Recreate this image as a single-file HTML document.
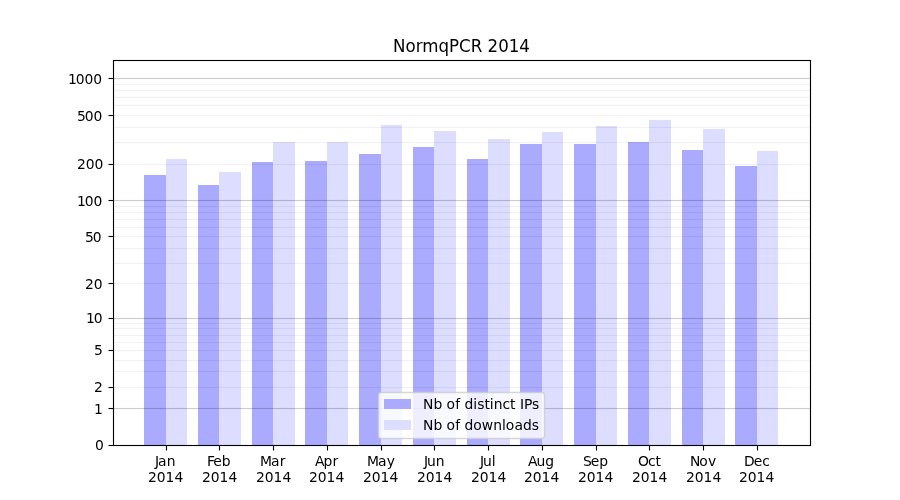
<!DOCTYPE html>
<html lang="en"><head><meta charset="utf-8"><title>NormqPCR 2014</title>
<style>
html,body{margin:0;padding:0;background:#fff;}
body{width:900px;height:500px;overflow:hidden;}
svg{display:block;font-family:"DejaVu Sans","Liberation Sans",sans-serif;fill:#000;}
.t{font-size:13.889px;}
.ttl{font-size:16.667px;}
</style></head><body>
<svg width="900" height="500" viewBox="0 0 900 500">
<rect x="0" y="0" width="900" height="500" fill="#fff"/>
<g shape-rendering="crispEdges">
<rect x="144" y="175" width="22" height="270" fill="#aaaaff"/>
<rect x="166" y="159" width="21" height="286" fill="#ddddff"/>
<rect x="198" y="185" width="21" height="260" fill="#aaaaff"/>
<rect x="219" y="172" width="22" height="273" fill="#ddddff"/>
<rect x="252" y="162" width="21" height="283" fill="#aaaaff"/>
<rect x="273" y="142" width="22" height="303" fill="#ddddff"/>
<rect x="305" y="161" width="22" height="284" fill="#aaaaff"/>
<rect x="327" y="142" width="21" height="303" fill="#ddddff"/>
<rect x="359" y="154" width="22" height="291" fill="#aaaaff"/>
<rect x="381" y="125" width="21" height="320" fill="#ddddff"/>
<rect x="413" y="147" width="21" height="298" fill="#aaaaff"/>
<rect x="434" y="131" width="22" height="314" fill="#ddddff"/>
<rect x="467" y="159" width="21" height="286" fill="#aaaaff"/>
<rect x="488" y="139" width="22" height="306" fill="#ddddff"/>
<rect x="520" y="144" width="22" height="301" fill="#aaaaff"/>
<rect x="542" y="132" width="21" height="313" fill="#ddddff"/>
<rect x="574" y="144" width="22" height="301" fill="#aaaaff"/>
<rect x="596" y="126" width="21" height="319" fill="#ddddff"/>
<rect x="628" y="142" width="21" height="303" fill="#aaaaff"/>
<rect x="649" y="120" width="22" height="325" fill="#ddddff"/>
<rect x="682" y="150" width="21" height="295" fill="#aaaaff"/>
<rect x="703" y="129" width="22" height="316" fill="#ddddff"/>
<rect x="735" y="166" width="22" height="279" fill="#aaaaff"/>
<rect x="757" y="151" width="21" height="294" fill="#ddddff"/>
</g>
<g fill="#000" shape-rendering="crispEdges">
<rect x="114" y="408" width="696" height="1" fill-opacity="0.2"/><rect x="114" y="407" width="696" height="1" fill-opacity="0.0120"/><rect x="114" y="409" width="696" height="1" fill-opacity="0.0120"/>
<rect x="114" y="387" width="696" height="1" fill-opacity="0.055"/><rect x="114" y="386" width="696" height="1" fill-opacity="0.0033"/><rect x="114" y="388" width="696" height="1" fill-opacity="0.0033"/>
<rect x="114" y="371" width="696" height="1" fill-opacity="0.055"/><rect x="114" y="370" width="696" height="1" fill-opacity="0.0033"/><rect x="114" y="372" width="696" height="1" fill-opacity="0.0033"/>
<rect x="114" y="360" width="696" height="1" fill-opacity="0.055"/><rect x="114" y="359" width="696" height="1" fill-opacity="0.0033"/><rect x="114" y="361" width="696" height="1" fill-opacity="0.0033"/>
<rect x="114" y="350" width="696" height="1" fill-opacity="0.055"/><rect x="114" y="349" width="696" height="1" fill-opacity="0.0033"/><rect x="114" y="351" width="696" height="1" fill-opacity="0.0033"/>
<rect x="114" y="342" width="696" height="1" fill-opacity="0.055"/><rect x="114" y="341" width="696" height="1" fill-opacity="0.0033"/><rect x="114" y="343" width="696" height="1" fill-opacity="0.0033"/>
<rect x="114" y="335" width="696" height="1" fill-opacity="0.055"/><rect x="114" y="334" width="696" height="1" fill-opacity="0.0033"/><rect x="114" y="336" width="696" height="1" fill-opacity="0.0033"/>
<rect x="114" y="328" width="696" height="1" fill-opacity="0.055"/><rect x="114" y="327" width="696" height="1" fill-opacity="0.0033"/><rect x="114" y="329" width="696" height="1" fill-opacity="0.0033"/>
<rect x="114" y="323" width="696" height="1" fill-opacity="0.055"/><rect x="114" y="322" width="696" height="1" fill-opacity="0.0033"/><rect x="114" y="324" width="696" height="1" fill-opacity="0.0033"/>
<rect x="114" y="318" width="696" height="1" fill-opacity="0.2"/><rect x="114" y="317" width="696" height="1" fill-opacity="0.0120"/><rect x="114" y="319" width="696" height="1" fill-opacity="0.0120"/>
<rect x="114" y="283" width="696" height="1" fill-opacity="0.055"/><rect x="114" y="282" width="696" height="1" fill-opacity="0.0033"/><rect x="114" y="284" width="696" height="1" fill-opacity="0.0033"/>
<rect x="114" y="263" width="696" height="1" fill-opacity="0.055"/><rect x="114" y="262" width="696" height="1" fill-opacity="0.0033"/><rect x="114" y="264" width="696" height="1" fill-opacity="0.0033"/>
<rect x="114" y="248" width="696" height="1" fill-opacity="0.055"/><rect x="114" y="247" width="696" height="1" fill-opacity="0.0033"/><rect x="114" y="249" width="696" height="1" fill-opacity="0.0033"/>
<rect x="114" y="236" width="696" height="1" fill-opacity="0.055"/><rect x="114" y="235" width="696" height="1" fill-opacity="0.0033"/><rect x="114" y="237" width="696" height="1" fill-opacity="0.0033"/>
<rect x="114" y="227" width="696" height="1" fill-opacity="0.055"/><rect x="114" y="226" width="696" height="1" fill-opacity="0.0033"/><rect x="114" y="228" width="696" height="1" fill-opacity="0.0033"/>
<rect x="114" y="219" width="696" height="1" fill-opacity="0.055"/><rect x="114" y="218" width="696" height="1" fill-opacity="0.0033"/><rect x="114" y="220" width="696" height="1" fill-opacity="0.0033"/>
<rect x="114" y="212" width="696" height="1" fill-opacity="0.055"/><rect x="114" y="211" width="696" height="1" fill-opacity="0.0033"/><rect x="114" y="213" width="696" height="1" fill-opacity="0.0033"/>
<rect x="114" y="206" width="696" height="1" fill-opacity="0.055"/><rect x="114" y="205" width="696" height="1" fill-opacity="0.0033"/><rect x="114" y="207" width="696" height="1" fill-opacity="0.0033"/>
<rect x="114" y="200" width="696" height="1" fill-opacity="0.2"/><rect x="114" y="199" width="696" height="1" fill-opacity="0.0120"/><rect x="114" y="201" width="696" height="1" fill-opacity="0.0120"/>
<rect x="114" y="164" width="696" height="1" fill-opacity="0.055"/><rect x="114" y="163" width="696" height="1" fill-opacity="0.0033"/><rect x="114" y="165" width="696" height="1" fill-opacity="0.0033"/>
<rect x="114" y="142" width="696" height="1" fill-opacity="0.055"/><rect x="114" y="141" width="696" height="1" fill-opacity="0.0033"/><rect x="114" y="143" width="696" height="1" fill-opacity="0.0033"/>
<rect x="114" y="127" width="696" height="1" fill-opacity="0.055"/><rect x="114" y="126" width="696" height="1" fill-opacity="0.0033"/><rect x="114" y="128" width="696" height="1" fill-opacity="0.0033"/>
<rect x="114" y="115" width="696" height="1" fill-opacity="0.055"/><rect x="114" y="114" width="696" height="1" fill-opacity="0.0033"/><rect x="114" y="116" width="696" height="1" fill-opacity="0.0033"/>
<rect x="114" y="105" width="696" height="1" fill-opacity="0.055"/><rect x="114" y="104" width="696" height="1" fill-opacity="0.0033"/><rect x="114" y="106" width="696" height="1" fill-opacity="0.0033"/>
<rect x="114" y="97" width="696" height="1" fill-opacity="0.055"/><rect x="114" y="96" width="696" height="1" fill-opacity="0.0033"/><rect x="114" y="98" width="696" height="1" fill-opacity="0.0033"/>
<rect x="114" y="90" width="696" height="1" fill-opacity="0.055"/><rect x="114" y="89" width="696" height="1" fill-opacity="0.0033"/><rect x="114" y="91" width="696" height="1" fill-opacity="0.0033"/>
<rect x="114" y="84" width="696" height="1" fill-opacity="0.055"/><rect x="114" y="83" width="696" height="1" fill-opacity="0.0033"/><rect x="114" y="85" width="696" height="1" fill-opacity="0.0033"/>
<rect x="114" y="78" width="696" height="1" fill-opacity="0.2"/><rect x="114" y="77" width="696" height="1" fill-opacity="0.0120"/><rect x="114" y="79" width="696" height="1" fill-opacity="0.0120"/>
</g>
<rect x="113.5" y="60.5" width="697" height="385" fill="none" stroke="#000" stroke-width="1.111"/>
<g stroke="#000" stroke-width="1.111">
<line x1="108.5" y1="445.5" x2="113" y2="445.5"/>
<line x1="108.5" y1="408.5" x2="113" y2="408.5"/>
<line x1="108.5" y1="387.5" x2="113" y2="387.5"/>
<line x1="108.5" y1="350.5" x2="113" y2="350.5"/>
<line x1="108.5" y1="318.5" x2="113" y2="318.5"/>
<line x1="108.5" y1="283.5" x2="113" y2="283.5"/>
<line x1="108.5" y1="236.5" x2="113" y2="236.5"/>
<line x1="108.5" y1="200.5" x2="113" y2="200.5"/>
<line x1="108.5" y1="164.5" x2="113" y2="164.5"/>
<line x1="108.5" y1="115.5" x2="113" y2="115.5"/>
<line x1="108.5" y1="78.5" x2="113" y2="78.5"/>
<line x1="166.5" y1="445" x2="166.5" y2="450.5"/>
<line x1="219.5" y1="445" x2="219.5" y2="450.5"/>
<line x1="273.5" y1="445" x2="273.5" y2="450.5"/>
<line x1="327.5" y1="445" x2="327.5" y2="450.5"/>
<line x1="381.5" y1="445" x2="381.5" y2="450.5"/>
<line x1="434.5" y1="445" x2="434.5" y2="450.5"/>
<line x1="488.5" y1="445" x2="488.5" y2="450.5"/>
<line x1="542.5" y1="445" x2="542.5" y2="450.5"/>
<line x1="596.5" y1="445" x2="596.5" y2="450.5"/>
<line x1="649.5" y1="445" x2="649.5" y2="450.5"/>
<line x1="703.5" y1="445" x2="703.5" y2="450.5"/>
<line x1="757.5" y1="445" x2="757.5" y2="450.5"/>
</g>
<rect x="378.5" y="392.5" width="166" height="46" rx="2.8" ry="2.8" fill="#fff" fill-opacity="0.8" stroke="#ccc" stroke-opacity="0.8" stroke-width="1.389"/>
<rect x="384" y="399" width="27" height="10" fill="#aaaaff" shape-rendering="crispEdges"/>
<rect x="384" y="420" width="27" height="10" fill="#ddddff" shape-rendering="crispEdges"/>
<text id="y0" class="t" x="95" y="450.30">0</text>
<text id="y1" class="t" x="94" y="413.51">1</text>
<text id="y2" class="t" x="94" y="392.00">2</text>
<text id="y5" class="t" x="94" y="355.21">5</text>
<text id="y10" class="t" x="86 93.75" y="323.04">10</text>
<text id="y20" class="t" x="85 93.75" y="288.72">20</text>
<text id="y50" class="t" x="85 92.75" y="241.63">50</text>
<text id="y100" class="t" x="77 84.75 93.5" y="205.62">100</text>
<text id="y200" class="t" x="77 85.75 94.5" y="168.85">200</text>
<text id="y500" class="t" x="77 84.75 93.5" y="120.63">500</text>
<text id="y1000" class="t" x="68 75.75 84.5 93.25" y="83.65">1000</text>
<text id="m0" class="t" x="155 158 166.75" y="465.50">Jan</text>
<text id="n0" class="t" x="148 156.75 165.5 174.5" y="481.50">2014</text>
<text id="m1" class="t" x="207 213.25 221.75" y="465.50">Feb</text>
<text id="n1" class="t" x="202 210.75 219.5 228.5" y="481.50">2014</text>
<text id="m2" class="t" x="260 271 279.75" y="465.50">Mar</text>
<text id="n2" class="t" x="256 264.75 273.5 282.5" y="481.50">2014</text>
<text id="m3" class="t" x="315 323.5 332.5" y="465.50">Apr</text>
<text id="n3" class="t" x="309 317.75 326.5 335.5" y="481.50">2014</text>
<text id="m4" class="t" x="367 378 386.75" y="465.50">May</text>
<text id="n4" class="t" x="363 371.75 380.5 389.5" y="481.50">2014</text>
<text id="m5" class="t" x="424 427 435.75" y="465.50">Jun</text>
<text id="n5" class="t" x="417 425.75 434.5 443.5" y="481.50">2014</text>
<text id="m6" class="t" x="480 483 491.75" y="465.50">Jul</text>
<text id="n6" class="t" x="471 479.75 488.5 497.5" y="481.50">2014</text>
<text id="m7" class="t" x="528 536.5 545.25" y="465.50">Aug</text>
<text id="n7" class="t" x="524 532.75 541.5 550.5" y="481.50">2014</text>
<text id="m8" class="t" x="583 590.75 599.25" y="465.50">Sep</text>
<text id="n8" class="t" x="578 586.75 595.5 604.5" y="481.50">2014</text>
<text id="m9" class="t" x="638 648 655.5" y="465.50">Oct</text>
<text id="n9" class="t" x="632 640.75 649.5 658.5" y="481.50">2014</text>
<text id="m10" class="t" x="690 699.25 708" y="465.50">Nov</text>
<text id="n10" class="t" x="686 694.75 703.5 712.5" y="481.50">2014</text>
<text id="m11" class="t" x="744 753.75 762.25" y="465.50">Dec</text>
<text id="n11" class="t" x="739 747.75 756.5 765.5" y="481.50">2014</text>
<text id="ttl" class="ttl" x="393 405.5 415.75 422.25 438.5 449 459 470.75 482.25 487.5 498.25 508.75 519.25" y="51.70" transform="matrix(1 0 0 1.11 0 -5.687)">NormqPCR 2014</text>
<text id="l1" class="t" x="423 433.5 442.25 446.5 455.25 460.25 464.5 473.25 477.25 484.5 489.75 493.75 502.5 510 515.5 520 524 532" y="408.60">Nb of distinct IPs</text>
<text id="l2" class="t" x="423 433.5 442.25 446.5 455.25 460.25 464.5 473.25 481.75 493.25 502 505.75 514.5 523 531.75" y="429.65">Nb of downloads</text>
</svg></body></html>
